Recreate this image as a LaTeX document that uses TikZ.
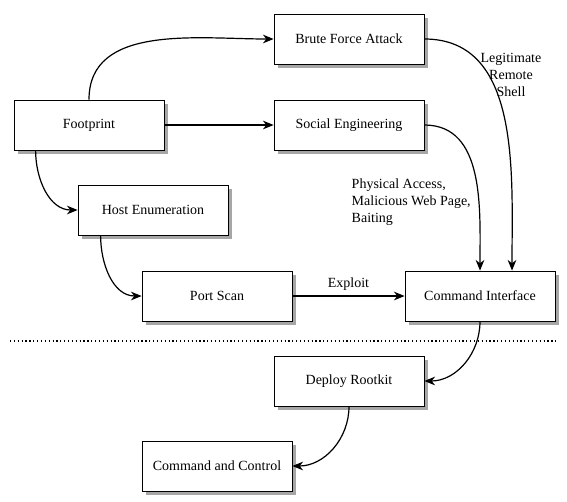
\documentclass[tikz,border=0pt]{standalone}
\usepackage{fontspec}
\setmainfont{Liberation Serif}
\usetikzlibrary{arrows.meta}
\def\divider{(10, 341) -- (557, 341)}

\begin{document}
\begin{tikzpicture}[x=0.75pt, y=-0.75pt,
	font=\fontsize{10.5}{13}\selectfont,
	stage/.style={draw, fill=white, line width=0.6pt, minimum width=112.5pt, minimum height=37.5pt},
	flow/.style={line width=0.9pt, -{Stealth[length=8pt, width=6.5pt, inset=2.5pt]}}]
	\useasboundingbox (0, 0) rectangle (567, 501);

	% shadows
	\foreach \sx/\sy in {89/125, 349/39, 349/125, 153/210, 217/296, 480/296, 349/381, 217/466}
		\fill[black!35] ({\sx-71.5}, {\sy-21.5}) rectangle ({\sx+78.5}, {\sy+28.5});

	\node[stage] (footprint) at (89, 125) {Footprint};
	\node[stage] (brute) at (349, 39) {Brute Force Attack};
	\node[stage] (social) at (349, 125) {Social Engineering};
	\node[stage] (hostenum) at (153, 210) {Host Enumeration};
	\node[stage] (portscan) at (217, 296) {Port Scan};
	\node[stage] (cmdint) at (480, 296) {Command Interface};
	\node[stage] (rootkit) at (349, 381) {Deploy Rootkit};
	\node[stage] (cnc) at (217, 466) {Command and Control};

	\draw[flow] (footprint.north) to[out=90, in=180] (brute.west);
	\draw[flow] (footprint.east) -- (social.west);
	\draw[flow] (footprint.south west) ++(22, 0) to[out=-90, in=180] (hostenum.west);
	\draw[flow] (hostenum.south west) ++(23, 0) to[out=-90, in=180] (portscan.west);
	\draw[flow] (portscan.east) -- node[above] {Exploit} (cmdint.west);
	\draw[flow] (social.east) to[out=0, in=90] (cmdint.north);
	\draw[flow] (brute.east) to[out=0, in=90] ([xshift=24pt]cmdint.north);
	\draw[flow] (cmdint.south) to[out=-90, in=0] (rootkit.east);
	\draw[flow] (rootkit.south) to[out=-90, in=0] (cnc.east);

	\node[align=center] (shell) at (511, 75) {Legitimate\\Remote\\Shell};
	\node[align=left, anchor=west] (physical) at (347, 202) {Physical Access,\\Malicious Web Page,\\Baiting};

	\draw[line width=0.9pt, dotted] \divider;
\end{tikzpicture}
\end{document}
